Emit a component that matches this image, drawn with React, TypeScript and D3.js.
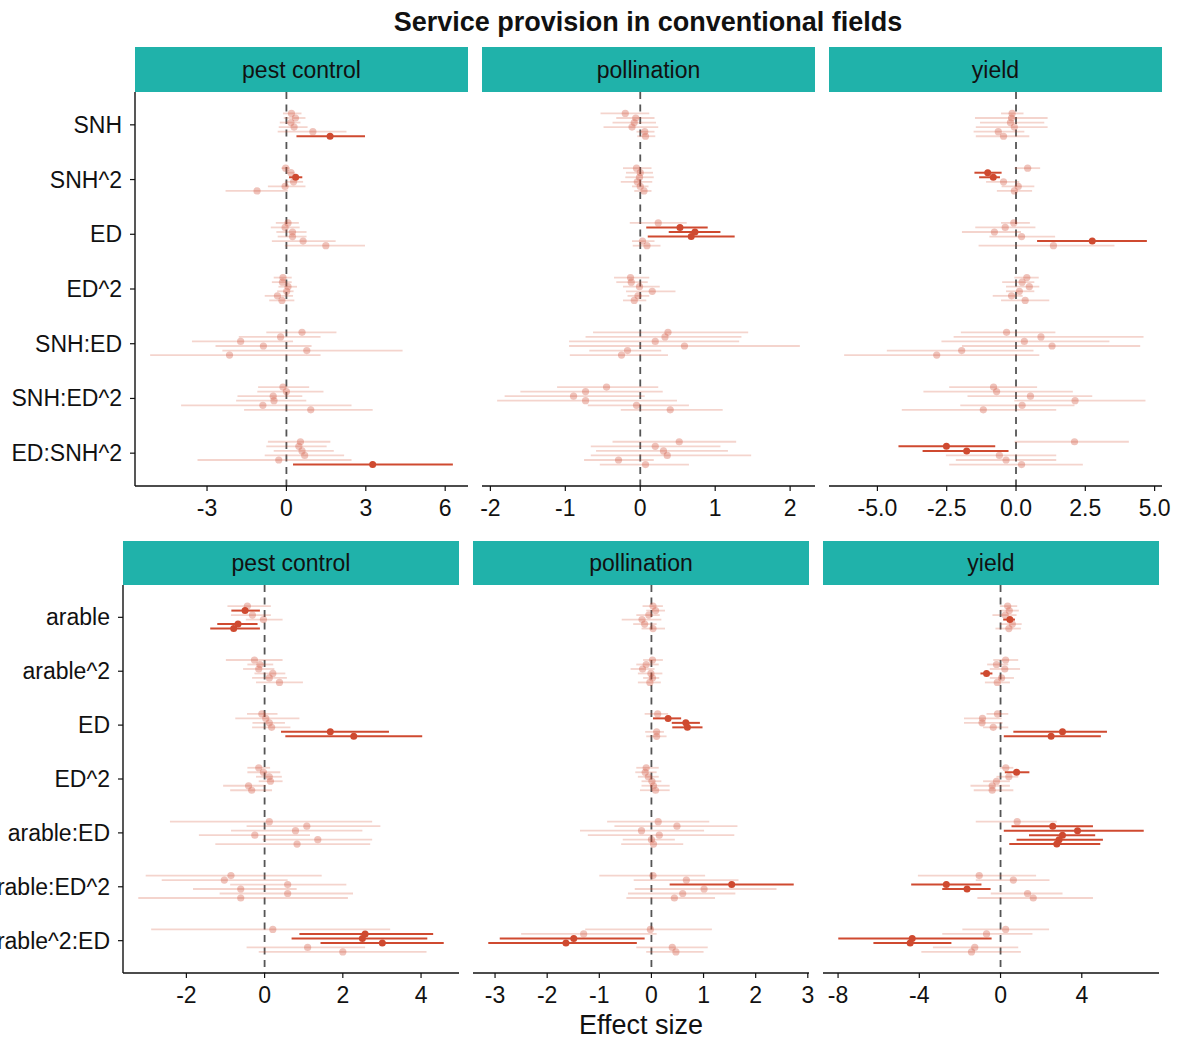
import React from "react";
import * as d3 from "d3";

// ---------- data ----------
const title = "Service provision in conventional fields";
const xTitle = "Effect size";
const services = ["pest control", "pollination", "yield"];
const topCategories = ["SNH", "SNH^2", "ED", "ED^2", "SNH:ED", "SNH:ED^2", "ED:SNH^2"];
const bottomCategories = ["arable", "arable^2", "ED", "ED^2", "arable:ED", "arable:ED^2", "arable^2:ED"];

// tick labels per facet
const topTicks = [[-3, 0, 3, 6], [-2, -1, 0, 1, 2], [-5, -2.5, 0, 2.5, 5]];
const bottomTicks = [[-2, 0, 2, 4], [-3, -2, -1, 0, 1, 2, 3], [-8, -4, 0, 4]];

// [estimate, lower, upper]; 6 estimates per category, in category order
const topPest = [
  [0.19, -0.13, 0.57], [0.34, -0.1, 0.72], [0.17, -0.25, 0.53], [0.29, -0.29, 0.8], [1.0, -0.33, 2.27], [1.65, 0.38, 2.97],
  [-0.03, -0.19, 0.13], [0.17, -0.02, 0.31], [0.35, 0.1, 0.6], [0.27, -0.06, 0.63], [-0.05, -0.7, 0.72], [-1.11, -2.3, 0.05],
  [0.06, -0.4, 0.47], [-0.05, -0.59, 0.5], [0.23, -0.38, 0.76], [0.23, -0.33, 0.76], [0.63, -0.55, 1.86], [1.49, -0.06, 2.97],
  [-0.13, -0.48, 0.2], [-0.15, -0.55, 0.2], [0.06, -0.3, 0.4], [0.01, -0.35, 0.27], [-0.34, -0.82, 0.25], [-0.17, -0.65, 0.3],
  [0.59, -0.76, 1.89], [-0.22, -1.8, 1.29], [-1.73, -3.57, 0.25], [-0.87, -2.68, 0.95], [0.77, -2.42, 4.39], [-2.15, -5.15, 1.29],
  [-0.13, -1.07, 0.86], [0.0, -1.1, 1.4], [-0.5, -1.85, 0.6], [-0.47, -1.9, 0.75], [-0.89, -3.98, 2.46], [0.92, -1.6, 3.26],
  [0.53, -0.7, 1.66], [0.47, -0.76, 1.52], [0.59, -0.48, 1.79], [0.69, -0.82, 2.18], [-0.29, -3.36, 2.46], [3.26, 0.25, 6.29],
];
const topPollination = [
  [-0.2, -0.53, 0.12], [-0.06, -0.32, 0.19], [-0.08, -0.37, 0.21], [-0.11, -0.49, 0.24], [0.06, -0.05, 0.19], [0.07, -0.04, 0.2],
  [-0.05, -0.23, 0.15], [0.0, -0.19, 0.17], [-0.01, -0.2, 0.18], [-0.04, -0.26, 0.16], [0.0, -0.11, 0.11], [0.05, -0.08, 0.15],
  [0.24, -0.14, 0.62], [0.53, 0.08, 0.9], [0.73, 0.38, 1.07], [0.68, 0.1, 1.26], [0.03, -0.11, 0.19], [0.09, -0.1, 0.27],
  [-0.13, -0.35, 0.12], [-0.12, -0.32, 0.1], [-0.01, -0.23, 0.26], [0.16, -0.19, 0.47], [-0.03, -0.17, 0.12], [-0.08, -0.23, 0.08],
  [0.37, -0.63, 1.44], [0.33, -0.73, 1.35], [0.2, -0.95, 1.32], [0.59, -0.95, 2.13], [-0.17, -0.68, 0.28], [-0.25, -0.94, 0.37],
  [-0.45, -1.11, 0.24], [-0.73, -1.6, 0.3], [-0.89, -1.81, 0.06], [-0.73, -1.91, 0.49], [-0.05, -0.7, 0.65], [0.4, -0.26, 1.1],
  [0.52, -0.37, 1.28], [0.2, -0.66, 1.07], [0.31, -0.59, 1.17], [0.36, -0.66, 1.48], [-0.29, -0.75, 0.18], [0.07, -0.54, 0.65],
];
const topYield = [
  [-0.14, -0.54, 0.27], [-0.16, -1.48, 1.14], [-0.2, -1.3, 1.02], [-0.06, -1.45, 1.14], [-0.64, -1.53, 0.3], [-0.45, -1.45, 0.48],
  [0.42, -0.05, 0.87], [-1.02, -1.5, -0.52], [-0.82, -1.33, -0.58], [-0.45, -1.08, 0.12], [0.08, -0.52, 0.66], [-0.06, -0.69, 0.58],
  [-0.08, -0.54, 0.5], [-0.39, -1.47, 0.7], [-0.78, -1.95, 0.18], [0.2, -0.96, 1.41], [2.75, 0.76, 4.72], [1.35, -1.35, 3.55],
  [0.39, -0.06, 0.82], [0.22, -0.5, 0.66], [0.48, -0.36, 0.84], [0.12, -0.36, 0.66], [-0.16, -0.84, 0.24], [0.33, -0.54, 1.2],
  [-0.34, -1.99, 1.42], [0.9, -2.25, 4.6], [0.3, -2.69, 3.37], [1.3, -1.95, 4.48], [-1.96, -4.66, 0.63], [-2.86, -6.2, 0.84],
  [-0.81, -2.41, 0.76], [-0.7, -3.34, 2.05], [0.52, -1.75, 2.75], [2.13, -0.06, 4.67], [0.22, -2.01, 2.11], [-1.18, -4.12, 1.45],
  [2.11, -0.05, 4.07], [-2.51, -4.24, -0.75], [-1.78, -3.37, -0.27], [-0.6, -2.53, 1.45], [-0.36, -2.17, 1.45], [0.2, -2.41, 2.41],
];
const bottomPest = [
  [-0.44, -0.95, 0.16], [-0.5, -0.85, -0.12], [-0.31, -0.86, 0.16], [-0.03, -0.48, 0.46], [-0.68, -1.21, -0.18], [-0.79, -1.39, -0.12],
  [-0.26, -0.99, 0.46], [-0.12, -0.44, 0.22], [-0.15, -0.55, 0.25], [0.21, -0.26, 0.53], [0.12, -0.32, 0.57], [0.38, -0.22, 0.98],
  [-0.07, -0.45, 0.33], [0.03, -0.75, 0.89], [0.12, -0.31, 0.52], [0.18, -0.32, 0.66], [1.68, 0.42, 3.18], [2.28, 0.53, 4.03],
  [-0.15, -0.44, 0.14], [-0.03, -0.44, 0.4], [0.12, -0.22, 0.44], [0.15, -0.15, 0.46], [-0.41, -1.06, 0.03], [-0.33, -0.88, 0.19],
  [0.12, -2.42, 2.75], [1.08, -0.46, 2.96], [0.79, -0.86, 2.5], [-0.25, -1.68, 1.16], [1.36, -0.05, 2.75], [0.83, -1.26, 2.7],
  [-0.86, -3.04, 1.46], [-1.03, -2.63, 0.59], [0.59, -0.88, 2.09], [-0.61, -1.83, 0.82], [0.59, -1.15, 2.26], [-0.61, -3.23, 2.13],
  [0.21, -2.9, 3.21], [2.57, 0.89, 4.31], [2.5, 0.69, 4.16], [3.01, 1.43, 4.58], [1.1, -0.46, 2.57], [2.0, -0.15, 4.14],
];
const bottomPollination = [
  [0.03, -0.17, 0.22], [0.08, -0.1, 0.26], [-0.05, -0.29, 0.16], [-0.18, -0.57, 0.19], [-0.13, -0.35, 0.1], [0.03, -0.19, 0.26],
  [0.02, -0.16, 0.22], [-0.1, -0.29, 0.14], [-0.17, -0.4, 0.06], [-0.01, -0.26, 0.21], [0.02, -0.16, 0.15], [-0.03, -0.26, 0.18],
  [0.12, -0.13, 0.32], [0.32, 0.03, 0.57], [0.66, 0.39, 0.93], [0.69, 0.4, 0.98], [0.1, -0.12, 0.24], [0.1, -0.1, 0.29],
  [-0.1, -0.29, 0.14], [-0.12, -0.31, 0.1], [-0.06, -0.26, 0.14], [0.01, -0.19, 0.19], [0.04, -0.19, 0.35], [0.08, -0.22, 0.35],
  [0.13, -0.85, 1.11], [0.49, -0.71, 1.65], [-0.19, -1.37, 1.01], [0.15, -1.22, 1.59], [0.0, -0.55, 0.45], [0.04, -0.58, 0.61],
  [0.03, -1.0, 1.03], [0.67, -0.34, 1.67], [1.54, 0.35, 2.73], [1.01, -0.32, 2.4], [0.6, -0.45, 1.61], [0.44, -0.48, 1.22],
  [-0.02, -1.27, 1.16], [-1.3, -2.5, 0.1], [-1.49, -2.91, -0.13], [-1.64, -3.13, -0.28], [0.4, -0.29, 1.08], [0.47, -0.1, 1.0],
];
const bottomYield = [
  [0.35, -0.03, 0.82], [0.43, -0.03, 0.9], [0.23, -0.4, 0.79], [0.46, 0.13, 0.71], [0.58, -0.03, 1.04], [0.41, -0.25, 1.0],
  [0.25, -0.36, 0.87], [-0.2, -0.66, 0.38], [0.21, -0.53, 0.96], [-0.69, -0.99, -0.4], [0.05, -0.53, 0.66], [-0.16, -0.77, 0.46],
  [-0.15, -0.69, 0.38], [-0.89, -1.8, 0.05], [-0.91, -1.8, 0.1], [-0.36, -0.86, 0.38], [3.05, 0.63, 5.24], [2.49, 0.16, 4.94],
  [0.26, -0.03, 0.63], [0.79, 0.21, 1.42], [0.41, -0.2, 0.87], [-0.2, -0.86, 0.46], [-0.41, -1.48, 0.46], [-0.41, -1.32, 0.63],
  [0.82, -1.22, 2.77], [2.57, 0.54, 4.55], [3.79, 0.16, 7.05], [3.05, 1.4, 4.66], [2.88, 0.79, 5.04], [2.77, 0.43, 4.91],
  [-1.05, -4.07, 1.75], [0.63, -1.22, 2.41], [-2.67, -4.4, -0.94], [-1.65, -2.87, -0.49], [1.33, -0.48, 3.05], [1.61, -1.14, 4.55],
  [0.25, -1.88, 2.39], [-0.69, -2.87, 1.57], [-4.35, -7.99, -0.44], [-4.45, -6.26, -2.42], [-1.27, -3.33, 0.87], [-1.43, -3.9, 1.0],
];

// ---------- styling / layout ----------
const W = 1179;
const H = 1039;
const FONT = "'Liberation Sans', Arial, Helvetica, sans-serif";
const STRIP = "#20B2AA";
const SIG = "#CF4A30";
const N_PER = 6;

type Row = {
  categories: string[];
  ticks: number[][];
  data: number[][][];
  panels: [number, number][];
  y0: number;
  y1: number;
  stripTop: number;
  tickFormat: ((v: number) => string)[];
};

const plain = (v: number) => String(v);
const oneDec = (v: number) => v.toFixed(1);

const rows: Row[] = [
  {
    categories: topCategories,
    ticks: topTicks,
    data: [topPest, topPollination, topYield],
    panels: [[135, 468], [482, 815], [829, 1162]],
    y0: 92,
    y1: 486,
    stripTop: 47,
    tickFormat: [plain, plain, oneDec],
  },
  {
    categories: bottomCategories,
    ticks: bottomTicks,
    data: [bottomPest, bottomPollination, bottomYield],
    panels: [[123, 459], [473, 809], [823, 1159]],
    y0: 585,
    y1: 973,
    stripTop: 541,
    tickFormat: [plain, plain, plain],
  },
];

function Facet({ row, fi }: { row: Row; fi: number }) {
  const [x0, x1] = row.panels[fi];
  const data = row.data[fi];
  const lo = d3.min(data, (d) => d[1]) as number;
  const hi = d3.max(data, (d) => d[2]) as number;
  const pad = (hi - lo) * 0.05;
  const x = d3.scaleLinear().domain([lo - pad, hi + pad]).range([x0, x1]);
  const y = d3.scalePoint<string>().domain(row.categories).range([row.y0, row.y1]).padding(0.6);
  const step = y.step();
  const dodge = 0.5 / N_PER;
  const pts = data.map((d, i) => {
    const cat = row.categories[Math.floor(i / N_PER)];
    const k = i % N_PER;
    const yy = (y(cat) as number) + (k - (N_PER - 1) / 2) * dodge * step;
    const sig = d[1] > 0 || d[2] < 0;
    return { est: d[0], lo: d[1], hi: d[2], yy, sig };
  });
  const light = pts.filter((p) => !p.sig);
  const dark = pts.filter((p) => p.sig);
  const fmt = row.tickFormat[fi];
  return (
    <g>
      {/* strip */}
      <rect x={x0} y={row.stripTop} width={x1 - x0} height={row.y0 - row.stripTop} fill={STRIP} />
      <text x={(x0 + x1) / 2} y={(row.stripTop + row.y0) / 2 + 8} textAnchor="middle" fontSize={23} fill="#111">
        {services[fi]}
      </text>
      {/* zero line */}
      <line x1={x(0)} x2={x(0)} y1={row.y0} y2={row.y1} stroke="#555" strokeWidth={1.8} strokeDasharray="7,5.5" />
      {/* non-significant */}
      {light.map((p, i) => (
        <g key={"l" + i}>
          <line x1={x(p.lo)} x2={x(p.hi)} y1={p.yy} y2={p.yy} stroke={SIG} strokeOpacity={0.24} strokeWidth={1.8} />
          <circle cx={x(p.est)} cy={p.yy} r={3.6} fill={SIG} fillOpacity={0.33} />
        </g>
      ))}
      {/* significant */}
      {dark.map((p, i) => (
        <g key={"d" + i}>
          <line x1={x(p.lo)} x2={x(p.hi)} y1={p.yy} y2={p.yy} stroke={SIG} strokeWidth={2} />
          <circle cx={x(p.est)} cy={p.yy} r={3.5} fill={SIG} />
        </g>
      ))}
      {/* x axis */}
      <line x1={x0} x2={x1} y1={row.y1} y2={row.y1} stroke="#111" strokeWidth={1.4} />
      {row.ticks[fi].map((t) => (
        <g key={t}>
          <line x1={x(t)} x2={x(t)} y1={row.y1} y2={row.y1 + 5} stroke="#111" strokeWidth={1.2} />
          <text x={x(t)} y={row.y1 + 30} textAnchor="middle" fontSize={23} fill="#111">
            {fmt(t)}
          </text>
        </g>
      ))}
      {/* y axis (left panel only) */}
      {fi === 0 && (
        <g>
          <line x1={x0} x2={x0} y1={row.y0} y2={row.y1} stroke="#111" strokeWidth={1.4} />
          {row.categories.map((c) => (
            <g key={c}>
              <line x1={x0 - 5} x2={x0} y1={y(c) as number} y2={y(c) as number} stroke="#111" strokeWidth={1.2} />
              <text x={x0 - 13} y={(y(c) as number) + 8} textAnchor="end" fontSize={23} fill="#111">
                {c}
              </text>
            </g>
          ))}
        </g>
      )}
    </g>
  );
}

export default function App() {
  return (
    <svg
      width={W}
      height={H}
      style={{ position: "absolute", left: 0, top: 0, background: "#fff" }}
      fontFamily={FONT}
    >
      <rect width={W} height={H} fill="#fff" />
      <text x={648} y={31} textAnchor="middle" fontSize={27} fontWeight="bold" fill="#111">
        {title}
      </text>
      {rows.map((row, ri) => (
        <g key={ri}>
          {services.map((s, fi) => (
            <Facet key={s} row={row} fi={fi} />
          ))}
        </g>
      ))}
      <text x={641} y={1034} textAnchor="middle" fontSize={27} fill="#111">
        {xTitle}
      </text>
    </svg>
  );
}
